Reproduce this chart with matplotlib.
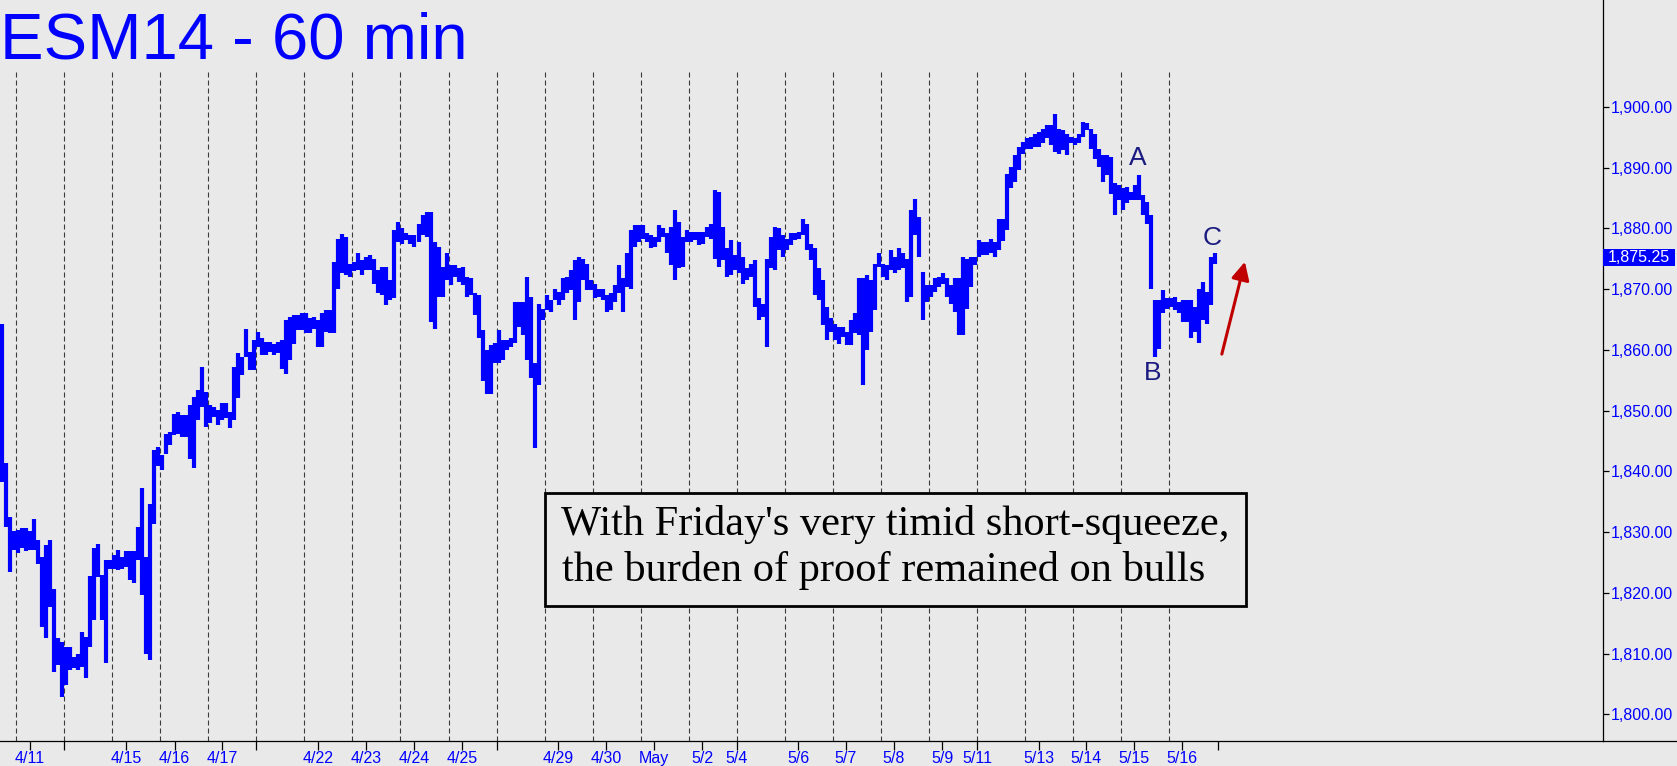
import matplotlib.pyplot as plt
from matplotlib.lines import Line2D
from matplotlib.patches import Rectangle
import numpy as np

W, H = 1677, 766

lows = [
    1838.3, 1830.9, 1823.5, 1827.0, 1826.5, 1827.3, 1826.8, 1827.0, 1827.0, 1824.8, 1814.4, 1812.5,
    1817.7, 1807.0, 1808.1, 1802.9, 1804.8, 1807.3, 1807.6, 1807.3, 1807.8, 1805.9, 1811.1, 1815.5,
    1822.6, 1815.5, 1808.4, 1824.0, 1824.0, 1823.7, 1824.0, 1824.3, 1822.1, 1821.6, 1825.4, 1819.6,
    1810.0, 1808.9, 1831.4, 1840.8, 1840.2, 1842.9, 1844.3, 1845.9, 1846.2, 1845.7, 1845.7, 1842.1,
    1840.5, 1848.4, 1850.6, 1847.3, 1847.9, 1849.0, 1847.6, 1848.4, 1848.7, 1847.1, 1848.4, 1852.0,
    1855.8, 1858.9, 1856.7, 1856.7, 1860.5, 1859.1, 1859.1, 1859.7, 1859.1, 1859.4, 1856.9, 1856.1,
    1858.3, 1861.0, 1863.2, 1863.3, 1862.7, 1862.7, 1863.5, 1860.5, 1860.5, 1863.0, 1862.7, 1862.7,
    1870.1, 1872.6, 1872.3, 1872.0, 1872.9, 1873.1, 1872.3, 1873.1, 1873.1, 1870.9, 1869.3, 1869.0,
    1867.4, 1868.2, 1868.5, 1877.8, 1877.5, 1878.1, 1877.5, 1877.0, 1877.8, 1878.9, 1878.6, 1864.6,
    1863.5, 1868.7, 1868.7, 1871.5, 1870.7, 1872.0, 1871.2, 1870.7, 1868.7, 1869.0, 1865.7, 1861.9,
    1854.8, 1852.8, 1852.8, 1857.8, 1857.8, 1858.3, 1860.0, 1860.5, 1861.1, 1863.8, 1862.4, 1858.3,
    1855.3, 1843.8, 1854.2, 1864.9, 1866.5, 1866.3, 1868.2, 1867.4, 1868.2, 1869.3, 1869.9, 1864.9,
    1867.9, 1871.5, 1869.8, 1869.8, 1868.5, 1868.7, 1868.2, 1866.3, 1866.6, 1867.9, 1869.3, 1866.3,
    1870.4, 1870.1, 1877.0, 1877.8, 1878.3, 1877.8, 1876.7, 1877.0, 1877.8, 1878.6, 1875.9, 1874.0,
    1871.5, 1873.4, 1873.7, 1877.8, 1877.8, 1878.1, 1877.2, 1877.5, 1878.6, 1878.3, 1875.0, 1873.7,
    1874.8, 1872.0, 1872.3, 1873.1, 1872.6, 1870.9, 1871.5, 1872.0, 1867.1, 1864.9, 1865.4, 1860.5,
    1873.4, 1873.1, 1876.4, 1875.3, 1876.4, 1877.2, 1878.1, 1878.3, 1878.9, 1876.4, 1874.8, 1869.0,
    1868.2, 1864.1, 1861.6, 1863.0, 1861.6, 1861.0, 1862.1, 1860.8, 1860.8, 1862.7, 1862.4, 1854.2,
    1860.0, 1863.0, 1866.5, 1873.7, 1872.0, 1871.5, 1873.1, 1872.6, 1873.1, 1873.4, 1867.9, 1868.7,
    1878.9, 1875.3, 1864.9, 1867.9, 1868.7, 1869.6, 1870.4, 1870.9, 1868.7, 1867.6, 1866.3, 1862.4,
    1862.4, 1866.8, 1870.4, 1874.0, 1875.3, 1875.6, 1875.6, 1875.9, 1875.3, 1876.4, 1878.0, 1879.7,
    1886.6, 1887.7, 1889.6, 1892.3, 1893.1, 1893.1, 1893.4, 1893.4, 1894.0, 1894.8, 1893.7, 1892.6,
    1892.3, 1892.9, 1892.0, 1894.0, 1893.7, 1894.0, 1895.1, 1896.2, 1893.1, 1891.5, 1890.1, 1887.7,
    1888.8, 1885.7, 1882.2, 1884.6, 1883.0, 1884.1, 1884.6, 1884.6, 1884.6, 1882.2, 1880.8, 1870.1,
    1858.9, 1860.2, 1866.0, 1866.8, 1867.1, 1866.5, 1866.0, 1864.6, 1864.6, 1861.9, 1863.0, 1861.1,
    1864.9, 1864.3, 1867.4, 1874.2,
]
highs = [
    1864.3, 1841.3, 1832.5, 1830.1, 1830.3, 1830.6, 1830.6, 1830.1, 1832.1, 1828.7, 1825.9, 1827.9,
    1828.7, 1820.6, 1812.5, 1811.9, 1811.1, 1811.1, 1809.5, 1809.9, 1813.6, 1812.8, 1822.7, 1827.3,
    1828.1, 1822.9, 1825.4, 1825.4, 1826.2, 1827.0, 1825.9, 1826.8, 1826.8, 1826.8, 1830.9, 1837.3,
    1825.9, 1834.7, 1843.5, 1844.0, 1842.7, 1846.2, 1846.5, 1849.5, 1849.8, 1849.3, 1849.3, 1850.9,
    1852.3, 1853.4, 1857.2, 1853.1, 1850.9, 1850.6, 1850.1, 1851.2, 1851.2, 1849.8, 1857.2, 1859.4,
    1858.9, 1863.5, 1859.7, 1861.6, 1863.0, 1861.9, 1861.3, 1861.3, 1861.0, 1861.3, 1861.6, 1864.9,
    1865.4, 1865.7, 1865.7, 1866.0, 1866.0, 1865.2, 1865.4, 1864.9, 1866.0, 1866.5, 1866.5, 1874.5,
    1878.3, 1879.0, 1878.6, 1874.2, 1874.5, 1875.9, 1874.8, 1875.3, 1875.6, 1875.0, 1873.1, 1873.7,
    1873.7, 1871.5, 1879.7, 1881.1, 1880.0, 1879.2, 1878.9, 1878.9, 1880.8, 1882.2, 1882.7, 1882.7,
    1877.8, 1877.0, 1873.7, 1875.9, 1874.0, 1874.0, 1873.4, 1873.7, 1872.0, 1871.8, 1869.3, 1869.0,
    1863.2, 1860.0, 1860.8, 1861.1, 1863.2, 1861.6, 1861.6, 1861.9, 1867.9, 1867.9, 1867.9, 1872.0,
    1868.7, 1857.8, 1867.6, 1866.8, 1869.0, 1868.2, 1870.1, 1869.6, 1871.8, 1872.0, 1873.1, 1874.8,
    1875.3, 1875.0, 1874.2, 1871.5, 1870.9, 1870.1, 1870.1, 1869.0, 1869.3, 1870.7, 1874.0, 1871.8,
    1875.9, 1879.7, 1880.5, 1880.5, 1880.5, 1879.2, 1878.9, 1878.6, 1880.5, 1880.0, 1879.2, 1880.3,
    1883.0, 1881.1, 1878.6, 1879.7, 1879.4, 1879.4, 1879.4, 1879.4, 1880.3, 1880.8, 1886.3, 1886.0,
    1880.3, 1876.7, 1878.1, 1875.6, 1877.8, 1875.3, 1873.4, 1874.2, 1874.8, 1868.6, 1867.6, 1875.0,
    1878.6, 1880.3, 1880.0, 1878.9, 1878.3, 1879.2, 1879.2, 1879.4, 1881.6, 1880.8, 1877.5, 1876.7,
    1873.4, 1871.5, 1867.1, 1865.2, 1864.3, 1863.8, 1863.8, 1863.0, 1864.9, 1866.0, 1871.8, 1871.8,
    1872.3, 1871.5, 1874.2, 1875.9, 1874.2, 1873.9, 1876.4, 1875.3, 1876.7, 1875.9, 1875.0, 1883.0,
    1884.9, 1881.9, 1872.8, 1870.7, 1870.7, 1871.8, 1872.0, 1872.6, 1871.8, 1870.7, 1871.8, 1871.8,
    1875.3, 1875.0, 1875.3, 1875.3, 1878.1, 1877.8, 1877.8, 1878.3, 1877.8, 1881.6, 1881.6, 1889.0,
    1890.1, 1892.0, 1893.4, 1894.2, 1894.8, 1895.1, 1895.6, 1895.9, 1896.4, 1897.0, 1897.0, 1898.9,
    1896.4, 1896.2, 1895.6, 1895.1, 1894.8, 1895.6, 1897.5, 1897.3, 1896.4, 1895.6, 1893.1, 1892.0,
    1892.0, 1891.8, 1887.4, 1887.1, 1886.6, 1886.8, 1886.0, 1887.1, 1888.8, 1885.5, 1884.4, 1882.2,
    1868.2, 1868.2, 1869.8, 1868.5, 1868.5, 1868.7, 1867.9, 1868.2, 1868.2, 1868.2, 1867.1, 1870.1,
    1871.2, 1869.6, 1875.3, 1875.9,
]
last_price = 1875.25

# x axis: session index (dashed lines), date labels
sessions = np.arange(25)
date_pos = [0.29, 2.29, 3.30, 4.29, 6.28, 7.28, 8.29, 9.28, 11.28, 12.28, 13.27,
            14.28, 15.0, 16.28, 17.27, 18.27, 19.27, 20.0, 21.28, 22.26, 23.26, 24.26]
date_labels = ['4/11', '4/15', '4/16', '4/17', '4/22', '4/23', '4/24', '4/25', '4/29',
               '4/30', 'May', '5/2', '5/4', '5/6', '5/7', '5/8', '5/9', '5/11', '5/13',
               '5/14', '5/15', '5/16']
week_marks = [1, 5, 10, 25]
price_ticks = np.arange(1800, 1901, 10)

bg = '#e9e9e9'
blue = '#0000ff'
sans = 'Liberation Sans'

fig = plt.figure(figsize=(W / 100, H / 100), dpi=100, facecolor=bg)
ax = fig.add_axes([0, 25 / H, 1603 / W, 741 / H], facecolor=bg)

ax.set_xlim(-16 / 48.06, 1587 / 48.06)
ax.set_ylim(1795.6, 1917.6)

# session separators
ax.vlines(sessions, 1795.6, 1906.0, colors='#3a3a3a', linewidth=0.8,
          linestyles=(0, (4.5, 2.7)), zorder=1)

# price bars
x = (np.arange(len(lows)) - 3.5) / 12.0
ax.vlines(x, lows, highs, colors=blue, linewidth=3.0, zorder=3)

for s in ['left', 'top']:
    ax.spines[s].set_visible(False)
for s in ['right', 'bottom']:
    ax.spines[s].set_color('black')
    ax.spines[s].set_linewidth(0.9)
fig.add_artist(Line2D([1603 / W, 1], [25 / H, 25 / H], color='black', lw=0.9))

ax.yaxis.tick_right()
ax.set_yticks(price_ticks)
ax.set_yticklabels(['{:,.2f}'.format(v) for v in price_ticks])
ax.tick_params(axis='y', direction='out', length=4.3, width=0.9, color='black',
               pad=1.5, labelcolor=blue, labelsize=11.5)

ax.set_xticks(date_pos + week_marks)
ax.set_xticklabels(date_labels + [''] * len(week_marks))
ax.tick_params(axis='x', direction='out', length=6.5, width=0.9, color='black',
               pad=0.5, labelcolor=blue, labelsize=11.5)
for lab in ax.get_xticklabels() + ax.get_yticklabels():
    lab.set_family(sans)

# last price flag
ax.add_patch(Rectangle((1.0, last_price - 1.4), 72 / 1603, 2.8, transform=ax.get_yaxis_transform(),
                       facecolor=blue, edgecolor='none', clip_on=False, zorder=5))
ax.text(1.0 + 36 / 1603, last_price, '{:,.2f}'.format(last_price), transform=ax.get_yaxis_transform(),
        ha='center', va='center', color='white', fontsize=11.5, family=sans, zorder=6)

# wave labels and arrow
wave_color = '#1a1a80'
ax.text(23.35, 1891.6, 'A', ha='center', va='center', color=wave_color, fontsize=19, family=sans, zorder=4)
ax.text(23.66, 1856.2, 'B', ha='center', va='center', color=wave_color, fontsize=19, family=sans, zorder=4)
ax.text(24.89, 1878.4, 'C', ha='center', va='center', color=wave_color, fontsize=19, family=sans, zorder=4)
ax.annotate('', xy=(25.57, 1874.5), xytext=(25.09, 1859.3),
            arrowprops=dict(arrowstyle='-|>,head_length=0.4,head_width=0.2', color='#c00000',
                            lw=2.2, mutation_scale=27, shrinkA=0, shrinkB=0), zorder=4)

# title
fig.text(0.0, 1 - 58.5 / H, 'ESM14 - 60 min', fontsize=47, color=blue, family=sans, va='baseline')

# comment box
fig.add_artist(Rectangle((545 / W, 1 - 606 / H), 701 / W, 113 / H, transform=fig.transFigure,
                         facecolor=bg, edgecolor='black', linewidth=2.0, zorder=5))
fig.text(561 / W, 1 - 535 / H, "With Friday's very timid short-squeeze,", fontsize=30.5,
         family='Liberation Serif', color='black', va='baseline', zorder=6)
fig.text(562 / W, 1 - 581.5 / H, 'the burden of proof remained on bulls', fontsize=30.5,
         family='Liberation Serif', color='black', va='baseline', zorder=6)

fig.savefig('out.png', dpi=100, facecolor=bg)
